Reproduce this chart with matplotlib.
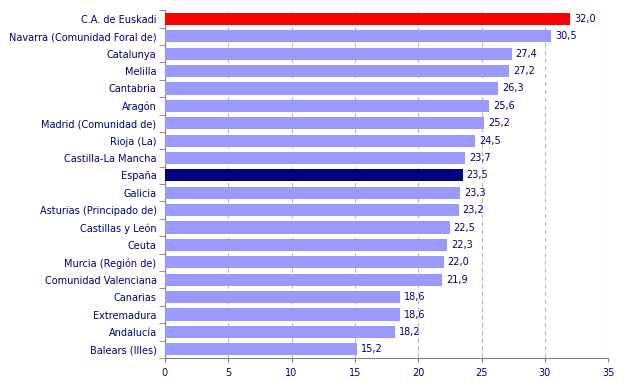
import matplotlib
matplotlib.use("Agg")
import matplotlib.pyplot as plt
import numpy as np

categories = ["C.A. de Euskadi", "Navarra (Comunidad Foral de)", "Catalunya", "Melilla",
              "Cantabria", "Aragón", "Madrid (Comunidad de)", "Rioja (La)",
              "Castilla-La Mancha", "España", "Galicia", "Asturias (Principado de)",
              "Castillas y León", "Ceuta", "Murcia (Región de)", "Comunidad Valenciana",
              "Canarias", "Extremadura", "Andalucía", "Balears (Illes)"]
values = [32.0, 30.5, 27.4, 27.2, 26.3, 25.6, 25.2, 24.5, 23.7, 23.5, 23.3, 23.2,
          22.5, 22.3, 22.0, 21.9, 18.6, 18.6, 18.2, 15.2]
xticks = [0, 5, 10, 15, 20, 25, 30, 35]

colors = []
for c in categories:
    if c == "C.A. de Euskadi":
        colors.append("#FF0000")
    elif c == "España":
        colors.append("#000080")
    else:
        colors.append("#9999FF")

navy = "#000080"
fig = plt.figure(figsize=(6.27, 3.9), dpi=100)
ax = fig.add_axes([0.263, 0.082, 0.707, 0.892])
n = len(categories)
y = np.arange(n)
ax.barh(y, values, height=0.7, color=colors, zorder=3)
ax.set_ylim(n - 0.5, -0.5)
ax.set_xlim(0, 35)
ax.set_xticks(xticks)
ax.set_xticklabels([str(t) for t in xticks], color=navy, fontsize=7)
ax.set_yticks(y)
ax.set_yticklabels(categories, color=navy, fontsize=7)
ax.set_yticks(np.arange(-0.5, n, 1), minor=True)
ax.tick_params(axis="y", which="major", length=0, pad=6)
ax.tick_params(axis="y", which="minor", length=4, color="#808080")
ax.tick_params(axis="x", length=3, color="#808080", pad=4)
ax.xaxis.grid(True, linestyle=(0, (4, 3)), color="#BBBBBB", linewidth=0.8, zorder=0)
for s in ["top", "right"]:
    ax.spines[s].set_visible(False)
for s in ["left", "bottom"]:
    ax.spines[s].set_color("#808080")
for yi, v in zip(y, values):
    ax.text(v + 0.3, yi, f"{v:.1f}".replace(".", ","), va="center", ha="left",
            color=navy, fontsize=7)
fig.savefig("out.png", dpi=100)
